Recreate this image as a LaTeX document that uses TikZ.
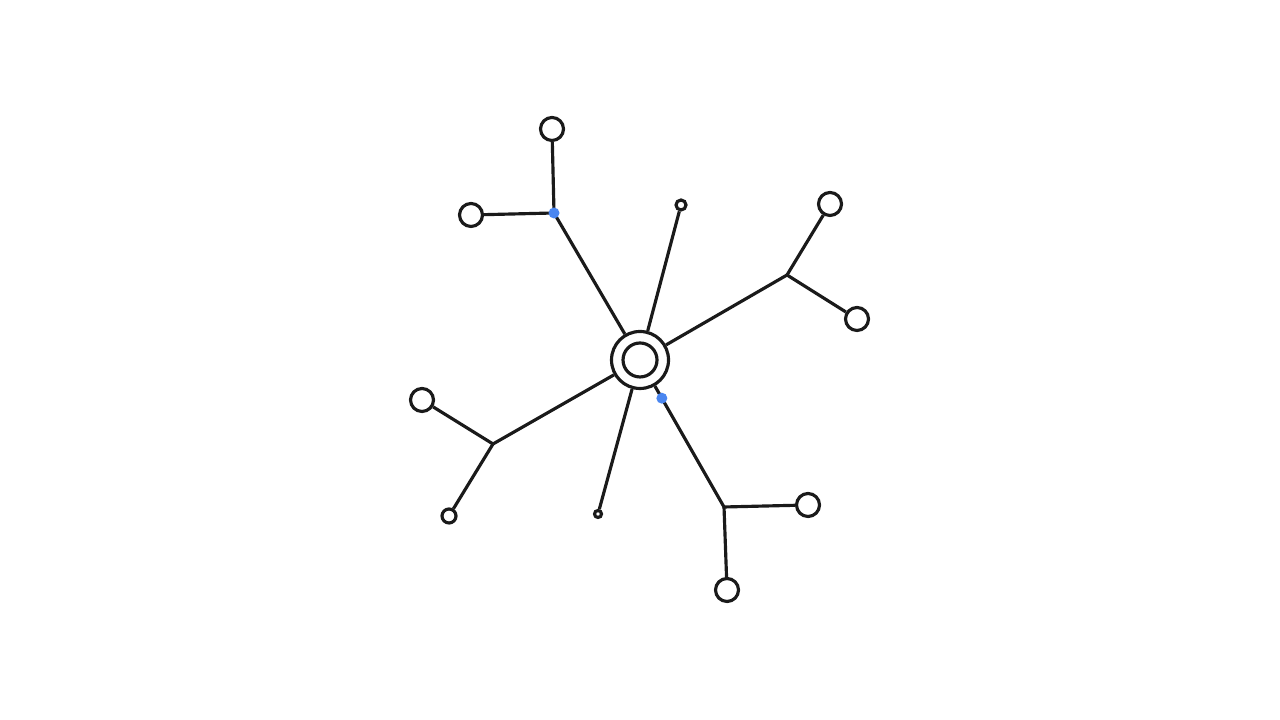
\documentclass[tikz,border=0pt]{standalone}
\usetikzlibrary{positioning}
\usetikzlibrary{calc}
\definecolor{dotblue}{HTML}{4A86F0}
\definecolor{inkgray}{HTML}{1A1A1A}
\tikzstyle{leaf}=[circle,draw=inkgray,fill=white,line width=0.9pt,inner sep=0pt,minimum size=0.23cm]
\tikzstyle{junction}=[coordinate]
\tikzstyle{bluedot}=[circle,fill=dotblue,inner sep=0pt,minimum size=0.11cm]
\tikzstyle{branch}=[draw=inkgray,line width=0.9pt]

\begin{document}
\begin{tikzpicture}
    \useasboundingbox (0,0) rectangle (12.8,7.2);

    % hub
    \node[circle,draw=inkgray,fill=white,line width=0.9pt,inner sep=0pt,minimum size=0.57cm] (hub) at (6.40,3.60) {};
    \node[circle,draw=inkgray,line width=0.9pt,inner sep=0pt,minimum size=0.34cm] (hubin) at (hub) {};

    \foreach \pos/\name in {{(5.54,5.07)/ab}, {(7.87,4.45)/de}, {(4.93,2.76)/fg}, {(7.24,2.13)/ij}}
        \node[junction] (\name) at \pos {};

    \foreach \pos/\name in {{(5.52,5.91)/A}, {(4.71,5.05)/B}, {(8.30,5.16)/D}, {(8.57,4.01)/E}, {(4.22,3.20)/F}, {(8.08,2.15)/I}, {(7.27,1.30)/J}}
        \node[leaf] (\name) at \pos {};

    \node[leaf,minimum size=0.10cm] (C) at (6.81,5.15) {};
    \node[leaf,minimum size=0.14cm] (G) at (4.49,2.04) {};
    \node[leaf,minimum size=0.07cm] (H) at (5.98,2.06) {};

    \foreach \source/\dest in {hub/ab, hub/de, hub/fg, hub/ij, hub/C, hub/H, ab/A, ab/B, de/D, de/E, fg/F, fg/G, ij/I, ij/J}
        \path[branch] (\source) -- (\dest);

    \node[bluedot] (dotab) at (ab) {};
    \node[bluedot] (dotij) at ($(hub)!0.26!(ij)$) {};
\end{tikzpicture}
\end{document}
